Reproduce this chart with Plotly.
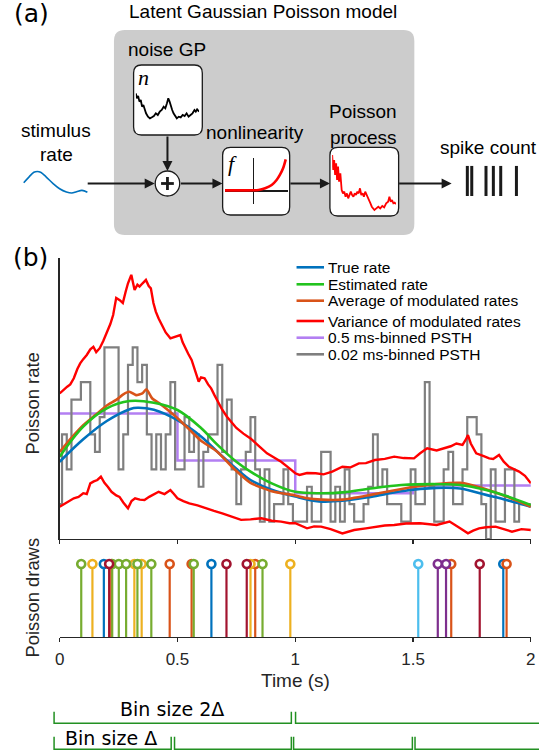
import plotly.graph_objects as go

W, H = 544, 753

# ---------------- panel (b) data : Poisson rate (arbitrary units) ----------------
true_t = [0, 0.1, 0.2, 0.3, 0.33, 0.4, 0.5, 0.6, 0.67, 0.75, 0.81, 0.9, 1.0, 1.1, 1.2, 1.32, 1.45, 1.6, 1.7, 1.81, 1.9, 2.0]
true_rate = [27.5, 35.5, 42, 46.3, 46.7, 46, 42.3, 36.5, 31, 25, 21, 17.5, 15.1, 13.4, 13.6, 15, 17, 18.2, 18, 15.7, 13.8, 11.5]

est_t = [0, 0.1, 0.2, 0.296, 0.4, 0.5, 0.6, 0.67, 0.75, 0.81, 0.9, 1.0, 1.11, 1.2, 1.32, 1.45, 1.62, 1.7, 1.81, 1.9, 2.0]
est_rate = [29.3, 40, 46.5, 49.1, 48.5, 45.9, 39.5, 33.5, 27.5, 24, 19.8, 16.8, 16.3, 16.6, 18, 19.2, 19.5, 19.2, 17.4, 15.2, 12.1]

avg_t = [0, 0.05, 0.1, 0.15, 0.2, 0.24, 0.27, 0.296, 0.324, 0.351, 0.368, 0.393, 0.42, 0.45, 0.5, 0.55, 0.6,
         0.67, 0.74, 0.81, 0.9, 1.0, 1.05, 1.11, 1.2, 1.32, 1.4, 1.5, 1.6, 1.7, 1.8, 1.9, 2.0]
avg_rate = [31, 36, 40.5, 44, 47.5, 49.5, 51.5, 52.4, 51.2, 51.8, 53.3, 50, 48.5, 46.5, 43, 39, 35,
            31, 25, 20, 17, 15.5, 14.5, 14, 14, 15.7, 17, 18.5, 19.6, 20, 18, 15, 11.5]

var_up_t = [0, 0.015, 0.032, 0.045, 0.06, 0.075, 0.087, 0.1, 0.115, 0.13, 0.143, 0.155, 0.17, 0.185, 0.2, 0.215,
            0.227, 0.24, 0.255, 0.268, 0.28, 0.29, 0.304, 0.312, 0.318, 0.33, 0.339, 0.352, 0.366, 0.378, 0.387,
            0.398, 0.408, 0.42, 0.436, 0.45, 0.47, 0.49, 0.512, 0.522, 0.533, 0.545, 0.56, 0.575, 0.59, 0.6, 0.615,
            0.63, 0.643, 0.657, 0.67, 0.69, 0.71, 0.727, 0.75, 0.78, 0.81, 0.84, 0.88, 0.91, 0.94, 0.97, 1.0,
            1.018, 1.05, 1.087, 1.12, 1.157, 1.2, 1.235, 1.27, 1.3, 1.338, 1.38, 1.42, 1.46, 1.504, 1.53, 1.56,
            1.6, 1.63, 1.66, 1.684, 1.71, 1.725, 1.733, 1.745, 1.768, 1.8, 1.823, 1.84, 1.865, 1.885, 1.907,
            1.93, 1.95, 1.975, 2.0]
var_up = [51.8, 53, 54.2, 55, 57.2, 60.5, 62.5, 64, 65.5, 67.5, 68.4, 66.5, 67.9, 70.5, 73.2, 76.5,
          79.7, 85.8, 85, 84, 88, 91, 94, 91.5, 88.6, 90.5, 89.8, 91, 92.2, 90, 89.2,
          84, 80.9, 78.5, 75.6, 73.5, 71.4, 72, 72.6, 70, 67.9, 66, 63.7, 60, 56, 57.5, 57.2,
          55, 53.6, 51.2, 49, 46, 43.5, 41.7, 39.5, 37.5, 35.8, 33.5, 30.5, 29, 27.5, 25.5, 23.4,
          22.8, 23.5, 23.4, 23, 24, 25.7, 25.5, 26.9, 27, 28.1, 28.5, 29.3, 28.8, 28.7, 30.5, 32.3,
          31.5, 32.3, 33, 34, 33.5, 35.5, 37, 34, 30.5, 29.5, 28.7, 28.5, 29.9, 27.5, 25.7,
          24.8, 24, 22.5, 19.8]

var_lo_t = [0, 0.03, 0.06, 0.08, 0.1, 0.115, 0.13, 0.145, 0.16, 0.175, 0.19, 0.205, 0.22, 0.24, 0.254, 0.27,
            0.29, 0.305, 0.32, 0.34, 0.36, 0.38, 0.4, 0.42, 0.445, 0.47, 0.485, 0.5, 0.525, 0.55, 0.585, 0.62,
            0.655, 0.69, 0.73, 0.77, 0.81, 0.856, 0.9, 0.94, 0.976, 1.0, 1.05, 1.08, 1.11, 1.15, 1.2, 1.25,
            1.3, 1.34, 1.38, 1.42, 1.47, 1.53, 1.57, 1.6, 1.655, 1.68, 1.7, 1.733, 1.755, 1.78, 1.81, 1.85,
            1.885, 1.92, 1.96, 2.0]
var_lo = [11.5, 13, 14.5, 15, 16.3, 16, 19.8, 20.5, 21, 22.2, 20, 18.5, 16.8, 15.5, 15, 13,
          10.9, 13.5, 14.5, 14, 13.9, 15, 16, 16.8, 16, 17.4, 16, 14.5, 13.5, 12.7, 12, 10.9,
          10, 9.1, 8, 6.8, 7, 7.4, 6.5, 6.2, 5.6, 5.6, 3.8, 4.5, 4.4, 3.5, 2.0, 3.2,
          3.8, 4.4, 4.8, 5.0, 5.5, 5.6, 5.2, 5.0, 6.2, 5, 3.8, 2.0, 3, 3.8, 4.2, 4.4,
          3.5, 2.6, 3.5, 3.2]

coarse_t = [0, 0.5, 1.0, 1.5, 2.0]
coarse_rate = [44.7, 27.9, 16.3, 19.0, 19.0]

fine_bin = 0.02
fine_counts = [2, 6, 4, 8, 8, 9, 9, 6, 5, 7, 11, 11, 11, 4, 6, 10, 11, 9, 10, 6,
               4, 6, 4, 6, 9, 4, 4, 7, 5, 6, 3, 5, 6, 6, 10, 5, 8, 4, 2, 4,
               5, 7, 4, 1, 4, 1, 2, 2, 4, 2, 1, 1, 1, 3, 1, 1, 5, 5, 1, 3,
               1, 4, 2, 1, 1, 2, 3, 6, 3, 4, 2, 2, 2, 1, 1, 4, 2, 2, 9, 3,
               1, 1, 4, 5, 2, 2, 4, 7, 7, 6, 2, 0, 4, 1, 1, 4, 4, 1, 2, 2, 2]
rate_per_count = 6.2
fine_t = [round(fine_bin * k, 2) for k in range(len(fine_counts))]

# Poisson draws (spike times, draw index)
draw_times = [0.0915, 0.139, 0.1875, 0.21, 0.219, 0.223, 0.251, 0.282, 0.317, 0.33, 0.348, 0.389, 0.467,
              0.56, 0.569, 0.644, 0.708, 0.794, 0.81, 0.83, 0.861, 0.979, 1.522, 1.605, 1.64, 1.662,
              1.783, 1.883, 1.897]
draw_id = [5, 3, 1, 7, 2, 5, 5, 5, 3, 5, 3, 5, 2, 2, 5, 1, 7, 7, 3, 2, 5, 3, 6, 4, 4, 2, 7, 1, 2]

x_ticks = [0, 0.5, 1, 1.5, 2]
x_ticklabels = ['0', '0.5', '1', '1.5', '2']

legend_labels = ['True rate', 'Estimated rate', 'Average of modulated rates',
                 'Variance of modulated rates', '0.5 ms-binned PSTH', '0.02 ms-binned PSTH']

# ---------------- panel (a) data : diagram sketches ----------------
stim_t = [0.03, 0.11, 0.18, 0.23, 0.28, 0.36, 0.46, 0.56, 0.66, 0.74, 0.81, 0.89, 0.97]
stim_val = [0.49, 0.71, 0.88, 0.91, 0.88, 0.71, 0.47, 0.27, 0.15, 0.11, 0.16, 0.21, 0.14]

noise_t = [0.0, 0.016, 0.036, 0.057, 0.078, 0.098, 0.119, 0.140, 0.161, 0.192, 0.223, 0.254, 0.285, 0.316,
           0.347, 0.378, 0.409, 0.440, 0.466, 0.492, 0.513, 0.534, 0.554, 0.575, 0.596, 0.622, 0.648, 0.679,
           0.710, 0.741, 0.772, 0.803, 0.834, 0.865, 0.896, 0.927, 0.948, 0.969, 1.0]
noise_val = [1.0, 0.85, 0.92, 0.75, 0.80, 0.60, 0.65, 0.50, 0.40, 0.30, 0.25, 0.28, 0.32, 0.40, 0.35, 0.45,
             0.50, 0.60, 0.55, 0.70, 0.85, 0.75, 0.60, 0.50, 0.40, 0.32, 0.25, 0.30, 0.28, 0.35, 0.32, 0.40,
             0.30, 0.35, 0.40, 0.50, 0.45, 0.52, 0.45]

nonlin_x = [-0.91, -0.4, 0.157, 0.365, 0.574, 0.729, 0.832, 0.934, 1.018]
nonlin_y = [0.02, 0.02, 0.03, 0.083, 0.187, 0.342, 0.498, 0.706, 0.986]

pp_t = [0.0, 0.015, 0.031, 0.046, 0.062, 0.077, 0.092, 0.108, 0.128, 0.149, 0.169, 0.190, 0.210, 0.231,
        0.251, 0.272, 0.292, 0.313, 0.333, 0.354, 0.374, 0.395, 0.415, 0.436, 0.456, 0.477, 0.497, 0.518,
        0.538, 0.559, 0.579, 0.600, 0.621, 0.641, 0.662, 0.692, 0.723, 0.754, 0.785, 0.815, 0.846, 0.877,
        0.897, 0.918, 0.938, 0.959, 0.979, 1.0]
pp_val = [2.15, 1.70, 2.00, 1.55, 1.90, 1.40, 1.80, 1.35, 1.60, 1.10, 1.00, 1.05, 0.90, 1.00, 0.85, 0.95,
          1.05, 0.95, 0.90, 1.00, 0.95, 1.05, 1.00, 1.15, 0.95, 1.00, 0.90, 1.05, 0.95, 0.85, 0.80, 0.70,
          0.60, 0.55, 0.50, 0.55, 0.60, 0.55, 0.62, 0.58, 0.70, 0.75, 0.90, 0.75, 0.80, 0.70, 0.72, 0.68]

spike_t = [0.0, 0.09, 0.38, 0.53, 0.68, 1.0]

# ---------------- styles ----------------
C_BLUE = '#0072BD'
C_GREEN = '#22C31E'
C_ORANGE = '#D95319'
C_RED = '#FF0000'
C_PURPLE = '#B37FF2'
C_GRAY = '#7F7F7F'
C_AX = '#262626'
draw_palette = {1: '#0072BD', 2: '#D95319', 3: '#EDB120', 4: '#7E2F8E', 5: '#77AC30', 6: '#4DBEEE', 7: '#A2142F'}
SANS = 'Liberation Sans, Arial, sans-serif'


def X(p):
    return p / W


def Y(p):
    return 1 - p / H


def dom_x(a, b):
    return [X(a), X(b)]


def dom_y(top, bottom):
    return [Y(bottom), Y(top)]


fig = go.Figure()

# ---- top panel traces ----
fig.add_trace(go.Scatter(x=coarse_t, y=coarse_rate, mode='lines',
                         line=dict(color=C_PURPLE, width=2.5, shape='hv'), xaxis='x', yaxis='y'))
fig.add_trace(go.Scatter(x=fine_t, y=[c * rate_per_count for c in fine_counts], mode='lines',
                         line=dict(color=C_GRAY, width=2.2, shape='hvh'), xaxis='x', yaxis='y'))
fig.add_trace(go.Scatter(x=var_up_t + [None] + var_lo_t, y=var_up + [None] + var_lo, mode='lines',
                         line=dict(color=C_RED, width=2.4), xaxis='x', yaxis='y'))
fig.add_trace(go.Scatter(x=true_t, y=true_rate, mode='lines',
                         line=dict(color=C_BLUE, width=2.6, shape='spline', smoothing=1.0), xaxis='x', yaxis='y'))
fig.add_trace(go.Scatter(x=avg_t, y=avg_rate, mode='lines',
                         line=dict(color=C_ORANGE, width=2.6, shape='spline', smoothing=0.6), xaxis='x', yaxis='y'))
fig.add_trace(go.Scatter(x=est_t, y=est_rate, mode='lines',
                         line=dict(color=C_GREEN, width=2.6, shape='spline', smoothing=1.0), xaxis='x', yaxis='y'))

# ---- stems ----
for did in sorted(set(draw_id)):
    xs, ys = [], []
    for t, d in zip(draw_times, draw_id):
        if d == did:
            xs += [t, t, None]
            ys += [0, 1, None]
    fig.add_trace(go.Scatter(x=xs, y=ys, mode='lines', line=dict(color=draw_palette[did], width=2.2),
                             xaxis='x2', yaxis='y2'))
for did in sorted(set(draw_id)):
    xs = [t for t, d in zip(draw_times, draw_id) if d == did]
    fig.add_trace(go.Scatter(x=xs, y=[1] * len(xs), mode='markers', cliponaxis=False,
                             marker=dict(symbol='circle', size=8, color='white',
                                         line=dict(color=draw_palette[did], width=2.6)),
                             xaxis='x2', yaxis='y2'))

# ---- diagram mini plots ----
fig.add_trace(go.Scatter(x=stim_t, y=stim_val, mode='lines',
                         line=dict(color=C_BLUE, width=1.6, shape='spline'), xaxis='x6', yaxis='y6'))
fig.add_trace(go.Scatter(x=noise_t, y=noise_val, mode='lines',
                         line=dict(color='black', width=1.8), xaxis='x3', yaxis='y3'))
fig.add_trace(go.Scatter(x=nonlin_x, y=nonlin_y, mode='lines',
                         line=dict(color=C_RED, width=2.6, shape='spline', smoothing=0.8), xaxis='x4', yaxis='y4'))
fig.add_trace(go.Scatter(x=pp_t, y=pp_val, mode='lines',
                         line=dict(color=C_RED, width=1.8), xaxis='x5', yaxis='y5'))
sx, sy = [], []
for t in spike_t:
    sx += [t, t, None]
    sy += [0, 1, None]
fig.add_trace(go.Scatter(x=sx, y=sy, mode='lines', line=dict(color='#1a1a1a', width=3),
                         xaxis='x7', yaxis='y7'))

hidden = dict(visible=False, showgrid=False, zeroline=False, fixedrange=True)

fig.update_layout(
    width=W, height=H, margin=dict(l=0, r=0, t=0, b=0, pad=0),
    paper_bgcolor='white', plot_bgcolor='rgba(0,0,0,0)', showlegend=False,
    font=dict(family=SANS, color='black'),
    xaxis=dict(domain=dom_x(55.7, 535.7), range=[0, 2], anchor='y', showline=True, linecolor=C_AX,
               linewidth=1.3, ticks='outside', ticklen=4, tickwidth=1.2, tickcolor=C_AX,
               tickvals=x_ticks, showticklabels=False, showgrid=False, zeroline=False),
    yaxis=dict(domain=dom_y(258, 539), range=[0, 100], anchor='x', showline=True, linecolor=C_AX,
               linewidth=1.3, ticks='', showticklabels=False, showgrid=False, zeroline=False),
    xaxis2=dict(domain=dom_x(55.7, 535.7), range=[0, 2], anchor='y2', showline=True, linecolor=C_AX,
                linewidth=1.3, ticks='outside', ticklen=4, tickwidth=1.2, tickcolor=C_AX,
                tickvals=x_ticks, ticktext=x_ticklabels, ticklabelstandoff=2,
                tickfont=dict(family=SANS, size=17, color=C_AX), showgrid=False, zeroline=False),
    yaxis2=dict(domain=dom_y(545.75, 637), range=[0, 1.25], anchor='x2', **hidden),
    xaxis3=dict(domain=dom_x(133.3, 197.7), range=[0, 1], anchor='y3', **hidden),
    yaxis3=dict(domain=dom_y(90, 120), range=[0.2, 1.1], anchor='x3', **hidden),
    xaxis4=dict(domain=dom_x(224, 288.3), range=[-0.91, 1.09], anchor='y4', showgrid=False,
                showticklabels=False, ticks='', zeroline=True, zerolinecolor='#1a1a1a', zerolinewidth=1.3,
                fixedrange=True),
    yaxis4=dict(domain=dom_y(158, 204), range=[-0.405, 1.026], anchor='x4', showgrid=False,
                showticklabels=False, ticks='', zeroline=True, zerolinecolor='#1a1a1a', zerolinewidth=1.3,
                fixedrange=True),
    xaxis5=dict(domain=dom_x(333.3, 398.3), range=[0, 1], anchor='y5', **hidden),
    yaxis5=dict(domain=dom_y(150, 216.7), range=[0.3, 2.3], anchor='x5', **hidden),
    xaxis6=dict(domain=dom_x(17, 86), range=[0, 1], anchor='y6', **hidden),
    yaxis6=dict(domain=dom_y(169, 196), range=[0, 1], anchor='x6', **hidden),
    xaxis7=dict(domain=dom_x(468, 524), range=[-0.06, 1.06], anchor='y7', **hidden),
    yaxis7=dict(domain=dom_y(165.7, 196), range=[0, 1], anchor='x7', **hidden),
)


def rr_path(x0, y0, x1, y1, r):
    segs = [('M', [(x0 + r, y0)]), ('L', [(x1 - r, y0)]), ('Q', [(x1, y0), (x1, y0 + r)]),
            ('L', [(x1, y1 - r)]), ('Q', [(x1, y1), (x1 - r, y1)]), ('L', [(x0 + r, y1)]),
            ('Q', [(x0, y1), (x0, y1 - r)]), ('L', [(x0, y0 + r)]), ('Q', [(x0, y0), (x0 + r, y0)])]
    s = ''
    for cmd, pts in segs:
        s += cmd + ' '.join(f'{X(a):.5f},{Y(b):.5f}' for a, b in pts) + ' '
    return s + 'Z'


shapes = []
# grey model box
shapes.append(dict(type='path', xref='paper', yref='paper', path=rr_path(111, 30, 417, 235, 11),
                   fillcolor='#CCCCCC', line=dict(width=0), layer='below'))
# white inner boxes
for (a, b, c, d) in [(131, 65, 201, 135), (221.7, 147.3, 290, 215), (331, 147.3, 401, 216)]:
    shapes.append(dict(type='path', xref='paper', yref='paper', path=rr_path(a, b, c, d, 8),
                       fillcolor='white', line=dict(color='#1a1a1a', width=1.3), layer='below'))
# summation node
shapes.append(dict(type='circle', xref='paper', yref='paper', x0=X(153), x1=X(178), y0=Y(196), y1=Y(171),
                   fillcolor='white', line=dict(color='#1a1a1a', width=1.3), layer='above'))
shapes.append(dict(type='line', xref='paper', yref='paper', x0=X(159), x1=X(172), y0=Y(183.5), y1=Y(183.5),
                   line=dict(color='#1a1a1a', width=2.8)))
shapes.append(dict(type='line', xref='paper', yref='paper', x0=X(165.5), x1=X(165.5), y0=Y(177), y1=Y(190),
                   line=dict(color='#1a1a1a', width=2.8)))

# manual legend line samples
legend_rows = [267.3, 284.3, 300.7, 321, 337.7, 354.3]
legend_colors = [C_BLUE, C_GREEN, C_ORANGE, C_RED, C_PURPLE, C_GRAY]
for yy, col in zip(legend_rows, legend_colors):
    shapes.append(dict(type='line', xref='paper', yref='paper', x0=X(297), x1=X(325), y0=Y(yy), y1=Y(yy),
                       line=dict(color=col, width=2.6)))

# bin size brackets
G = '#229022'


def bracket(x0, x1, ytop, ybot, right_tick=True):
    p = f'M{X(x0):.5f},{Y(ytop):.5f} L{X(x0):.5f},{Y(ybot):.5f} L{X(x1):.5f},{Y(ybot):.5f}'
    if right_tick:
        p += f' L{X(x1):.5f},{Y(ytop):.5f}'
    return dict(type='path', xref='paper', yref='paper', path=p, line=dict(color=G, width=1.5))


shapes.append(bracket(50, 291.7, 711.7, 723.3))
shapes.append(bracket(296, 544, 711.7, 723.3, right_tick=False))
shapes.append(bracket(50, 169.3, 736.7, 749.3))
shapes.append(bracket(172.7, 291.7, 736.7, 749.3))
shapes.append(bracket(294, 415, 736.7, 749.3))
shapes.append(bracket(417.7, 544, 736.7, 749.3, right_tick=False))

fig.update_layout(shapes=shapes)

ann = []


def text(x, y, s, size, family=SANS, color='black', xanchor='center', angle=0):
    ann.append(dict(x=X(x), y=Y(y), xref='paper', yref='paper', text=s, showarrow=False,
                    xanchor=xanchor, yanchor='middle', textangle=angle,
                    font=dict(family=family, size=size, color=color)))


def arrow(x0, y0, x1, y1):
    ann.append(dict(x=X(x1), y=Y(y1), xref='paper', yref='paper', ax=x0 - x1, ay=y0 - y1,
                    axref='pixel', ayref='pixel', text='', showarrow=True, arrowhead=2, arrowsize=1,
                    arrowwidth=2, arrowcolor='#1a1a1a', standoff=0, startstandoff=0))


text(27, 14, '(a)', 25, family='DejaVu Sans')
text(263, 12, 'Latent Gaussian Poisson model', 19)
text(165.5, 50, 'noise GP', 19)
text(141.5, 77, '<i>n</i>', 22, family='Liberation Serif')
text(52, 130, 'stimulus', 19)
text(52, 154, 'rate', 19)
text(255, 132, 'nonlinearity', 19)
text(232, 163, '<i>f</i>', 22, family='Liberation Serif')
text(365, 112, 'Poisson', 19)
text(365, 137, 'process', 19)
text(493, 147, 'spike count', 19)

arrow(84, 183.5, 152.5, 183.5)
arrow(165.5, 135, 165.5, 171)
arrow(178.5, 183.5, 221.5, 183.5)
arrow(290, 183.5, 331, 183.5)
arrow(401, 183.5, 455, 183.5)

text(26, 257.5, '(b)', 25, family='DejaVu Sans')
text(27, 404, 'Poisson rate', 18.4, color=C_AX, angle=-90)
text(27, 598, 'Poisson draws', 18.4, color=C_AX, angle=-90)
text(295.7, 680.5, 'Time (s)', 19, color=C_AX)

for yy, lab in zip(legend_rows, legend_labels):
    text(327.5, yy, lab, 15.5, xanchor='left')

text(170, 708.5, 'Bin size 2Δ', 19, family='DejaVu Sans')
text(108, 738, 'Bin size Δ', 19, family='DejaVu Sans')

fig.update_layout(annotations=ann)

fig.write_html('out.html', config={'displayModeBar': False, 'staticPlot': True},
               post_script="document.body.style.margin='0';document.body.style.padding='0';"
                           "document.body.style.overflow='hidden';")
